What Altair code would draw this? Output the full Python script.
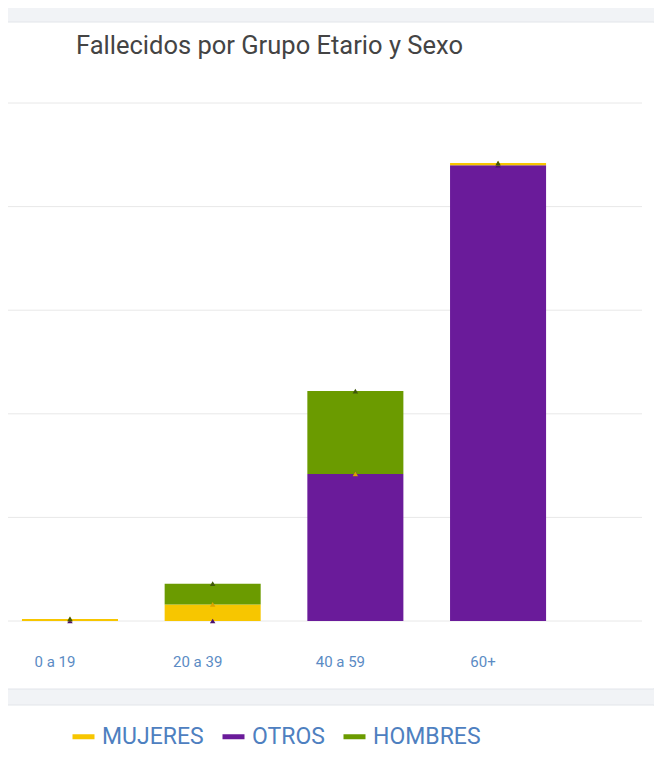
import altair as alt
import pandas as pd

# ---- data ----
grupos = ["0 a 19", "20 a 39", "40 a 59", "60+"]
series = ["MUJERES", "OTROS", "HOMBRES"]          # legend order
apilado = ["OTROS", "MUJERES", "HOMBRES"]         # stack order, bottom to top
mujeres = [1, 8, 0, 1]
otros = [0, 0, 71, 220]
hombres = [0, 10, 40, 0]
y_ticks = [0, 50, 100, 150, 200, 250]

colores = ["#F7C600", "#6A1B9A", "#6B9B00"]
colores_marcador = ["#D9A400", "#4B1170", "#40580A"]

valores = {"MUJERES": mujeres, "OTROS": otros, "HOMBRES": hombres}
rows = []
for i, g in enumerate(grupos):
    acumulado = 0
    for orden, s in enumerate(apilado):
        v = valores[s][i]
        acumulado += v
        rows.append({"grupo": g, "serie": s, "valor": v, "orden": orden, "tope": acumulado})
df = pd.DataFrame(rows)
grid_df = pd.DataFrame({"v": y_ticks})

yscale = alt.Scale(domain=[0, 250], nice=False)
xscale = alt.Scale(paddingInner=0.327, paddingOuter=0.385, align=0.127)

one = alt.Data(values=[{"a": 1}])

card_main = alt.Chart(one).mark_rect(
    fill="white", stroke="#E2E5EA", strokeWidth=1, cornerRadius=4
).encode(
    x=alt.value(-20), x2=alt.value(649), y=alt.value(-81), y2=alt.value(586)
)
card_legend = alt.Chart(one).mark_rect(
    fill="white", stroke="#E2E5EA", strokeWidth=1, cornerRadius=4
).encode(
    x=alt.value(-20), x2=alt.value(649), y=alt.value(602), y2=alt.value(700)
)

grid = alt.Chart(grid_df).mark_rule(color="#E8E8E8", strokeWidth=1).encode(
    y=alt.Y("v:Q", scale=yscale, axis=None)
)

leyenda = alt.Legend(
    title=None, orient="none", legendX=62, legendY=620,
    direction="horizontal", symbolType="stroke", symbolSize=484,
    symbolStrokeWidth=5, labelFontSize=23, labelColor="#4E80C0",
    labelFont="Roboto", labelOffset=5, columnPadding=8, padding=0,
)
escala_serie = alt.Scale(domain=series, range=colores)

bars = alt.Chart(df).mark_bar(strokeWidth=0).encode(
    x=alt.X(
        "grupo:N", sort=grupos, scale=xscale,
        axis=alt.Axis(
            title=None, domain=False, ticks=False, grid=False, labelAngle=0,
            labelFontSize=15, labelColor="#5B8BC4", labelFont="Roboto",
            labelPadding=33, labelOffset=-15, zindex=2,
        ),
    ),
    y=alt.Y("valor:Q", stack="zero", scale=yscale, axis=None),
    color=alt.Color("serie:N", sort=series, scale=escala_serie, legend=leyenda),
    stroke=alt.Stroke("serie:N", sort=series, scale=escala_serie, legend=leyenda),
    order=alt.Order("orden:Q"),
)

markers = alt.Chart(df).mark_point(filled=True, size=30, opacity=1, shape="triangle-up").encode(
    x=alt.X("grupo:N", sort=grupos, scale=xscale),
    y=alt.Y("tope:Q", scale=yscale, axis=None),
    fill=alt.Fill("serie:N", scale=alt.Scale(domain=series, range=colores_marcador), legend=None),
)

chart = alt.layer(card_main, card_legend, grid, bars, markers).properties(
    width=634, height=518,
    padding={"left": 0, "top": 95, "right": 12, "bottom": 128},
    autosize=alt.AutoSizeParams(type="none"),
    title=alt.TitleParams(
        "Fallecidos por Grupo Etario y Sexo", anchor="start", frame="group",
        dx=68, dy=58, offset=0, baseline="alphabetic",
        fontSize=25.5, font="Roboto", fontWeight="normal", color="#444444",
    ),
).configure(
    background="#F1F3F6"
).configure_view(stroke=None)

chart.save("out.html", embed_options={"renderer": "svg", "actions": False})
